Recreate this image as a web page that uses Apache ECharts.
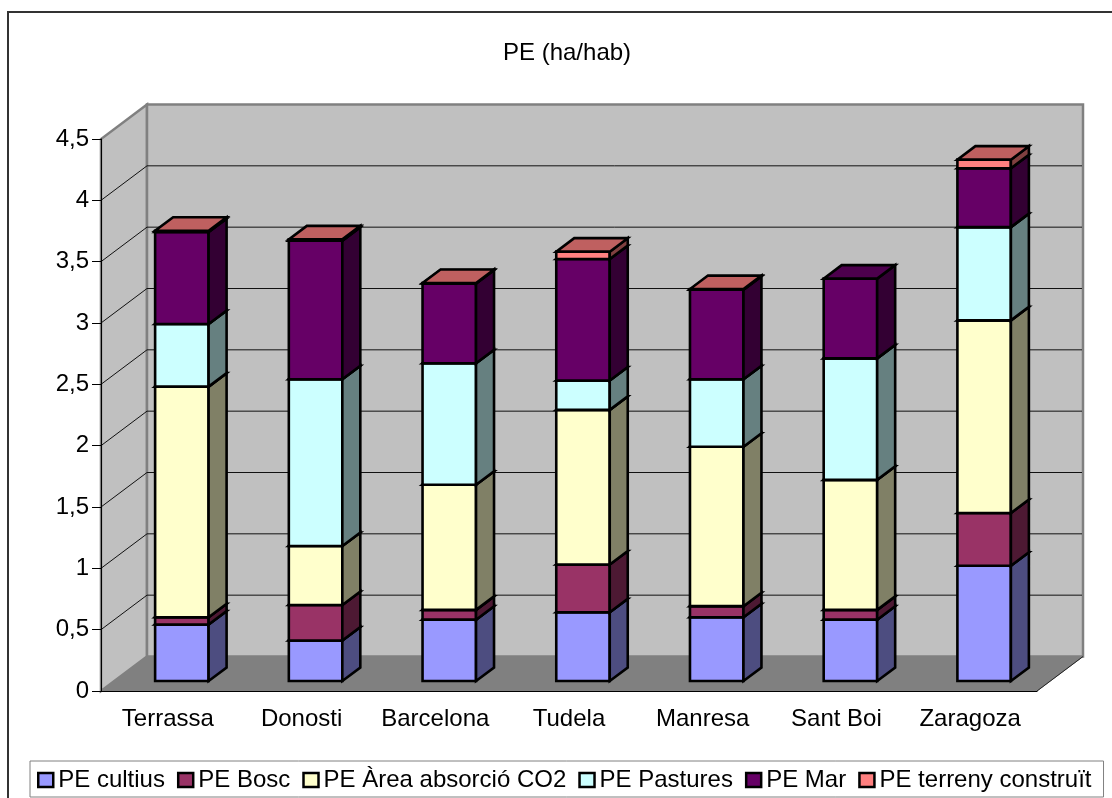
<!DOCTYPE html>
<html>
<head>
<meta charset="utf-8">
<title>PE (ha/hab)</title>
<script src="https://cdn.jsdelivr.net/npm/echarts@6/dist/echarts.min.js"></script>
<style>
  html, body { margin: 0; padding: 0; background: #fff; }
  #main { width: 1112px; height: 798px; }
</style>
</head>
<body>
<div id="main"></div>
<script>
var categories = ["Terrassa", "Donosti", "Barcelona", "Tudela", "Manresa", "Sant Boi", "Zaragoza"];
var yTicks = [0.5, 1, 1.5, 2, 2.5, 3, 3.5, 4];

var peCultius = [0.46, 0.33, 0.5, 0.56, 0.52, 0.5, 0.94];
var peBosc = [0.06, 0.29, 0.08, 0.39, 0.09, 0.08, 0.43];
var peArea = [1.88, 0.48, 1.02, 1.26, 1.3, 1.06, 1.57];
var pePastures = [0.51, 1.36, 0.99, 0.24, 0.55, 0.99, 0.76];
var peMar = [0.75, 1.13, 0.65, 0.99, 0.73, 0.65, 0.48];
var peTerreny = [0.01, 0.01, 0.005, 0.06, 0.005, 0, 0.07];

var seriesNames = ["PE cultius", "PE Bosc", "PE Àrea absorció CO2", "PE Pastures", "PE Mar", "PE terreny construït"];
var seriesValues = [peCultius, peBosc, peArea, pePastures, peMar, peTerreny];
var frontColors = ["#9999FF", "#993366", "#FFFFCC", "#CCFFFF", "#660066", "#FF8080"];
var sideColors = ["#4D4D80", "#4D1933", "#808066", "#668080", "#330033", "#804040"];
var topColors = ["#7373BF", "#73264D", "#BFBF99", "#99BFBF", "#4D004D", "#BF6060"];

// 3d look: how far the back wall sits from the front plane
var wallDx = 46;
var wallDy = -34.5;
// bars stand inside the floor
var barFrontDx = 14;
var barFrontDy = -10;
var barDepthDx = 18;
var barDepthDy = -13.5;
var barRatio = 0.4;

var myChart = echarts.init(document.getElementById("main"));

function poly(points, fill, stroke, lineWidth) {
  return {
    type: "polygon",
    shape: { points: points },
    style: { fill: fill, stroke: stroke, lineWidth: lineWidth }
  };
}

function renderWalls(params, api) {
  var rect = params.coordSys;
  var left = rect.x;
  var right = rect.x + rect.width;
  var y0 = api.coord([0, 0])[1];
  var yTop = api.coord([0, 4.5])[1];
  return {
    type: "group",
    children: [
      poly([[left, y0], [left + wallDx, y0 + wallDy], [left + wallDx, yTop + wallDy], [left, yTop]], "#C0C0C0", "#808080", 2.5),
      poly([[left + wallDx, y0 + wallDy], [right + wallDx, y0 + wallDy], [right + wallDx, yTop + wallDy], [left + wallDx, yTop + wallDy]], "#C0C0C0", "#808080", 2.5),
      poly([[left, y0], [left + wallDx, y0 + wallDy], [right + wallDx, y0 + wallDy], [right, y0]], "#808080", "#808080", 1)
    ]
  };
}

function renderGrid(params, api) {
  var rect = params.coordSys;
  var left = rect.x;
  var right = rect.x + rect.width;
  var y = api.coord([0, api.value(1)])[1];
  return {
    type: "polyline",
    shape: { points: [[left, y], [left + wallDx, y + wallDy], [right + wallDx - 1, y + wallDy]] },
    style: { fill: null, stroke: "#111", lineWidth: 1 }
  };
}

function renderFloorEdge(params, api) {
  var rect = params.coordSys;
  var right = rect.x + rect.width;
  var y0 = api.coord([0, 0])[1];
  return {
    type: "line",
    shape: { x1: right, y1: y0, x2: right + wallDx, y2: y0 + wallDy },
    style: { stroke: "#222", lineWidth: 1 }
  };
}

function makeRenderBar(s) {
  return function (params, api) {
    var base = api.value(1);
    var top = api.value(2);
    if (top <= base) return null;
    var band = api.size([1, 0])[0];
    var w = band * barRatio;
    var pb = api.coord([api.value(0), base]);
    var pt = api.coord([api.value(0), top]);
    var x1 = pb[0] + barFrontDx - w / 2;
    var x2 = x1 + w;
    var yb = pb[1] + barFrontDy;
    var yt = pt[1] + barFrontDy;
    return {
      type: "group",
      children: [
        poly([[x1, yb], [x2, yb], [x2, yt], [x1, yt]], frontColors[s], "#000", 2.6),
        poly([[x2, yb], [x2 + barDepthDx, yb + barDepthDy], [x2 + barDepthDx, yt + barDepthDy], [x2, yt]], sideColors[s], "#000", 2.6),
        poly([[x1, yt], [x2, yt], [x2 + barDepthDx, yt + barDepthDy], [x1 + barDepthDx, yt + barDepthDy]], topColors[s], "#000", 2.6)
      ]
    };
  };
}

var series = [
  {
    type: "custom",
    name: "walls",
    z: 1,
    silent: true,
    renderItem: renderWalls,
    data: [[0, 0]],
    encode: { x: 0, y: 1 }
  },
  {
    type: "custom",
    name: "grid",
    z: 2,
    silent: true,
    renderItem: renderGrid,
    data: yTicks.map(function (v) { return [0, v]; }),
    encode: { x: 0, y: 1 }
  },
  {
    type: "custom",
    name: "edge",
    z: 2,
    silent: true,
    renderItem: renderFloorEdge,
    data: [[0, 0]],
    encode: { x: 0, y: 1 }
  }
];

var totals = categories.map(function () { return 0; });
seriesValues.forEach(function (values, s) {
  var rows = values.map(function (v, i) {
    var row = [i, totals[i], totals[i] + v];
    totals[i] += v;
    return row;
  });
  series.push({
    type: "custom",
    name: seriesNames[s],
    z: 3,
    silent: true,
    renderItem: makeRenderBar(s),
    itemStyle: { color: frontColors[s] },
    data: rows,
    encode: { x: 0, y: [1, 2] }
  });
});

myChart.setOption({
  animation: false,
  backgroundColor: "#fff",
  textStyle: { fontFamily: "Liberation Sans" },
  title: {
    text: "PE (ha/hab)",
    left: 498,
    top: 36,
    textStyle: { fontSize: 24, fontWeight: "normal", color: "#000", fontFamily: "Liberation Sans" }
  },
  legend: {
    data: seriesNames,
    left: 30,
    top: 761,
    padding: [7, 12, 5, 7],
    itemGap: 12,
    itemWidth: 15,
    itemHeight: 14,
    icon: "rect",
    backgroundColor: "#fff",
    borderColor: "#808080",
    borderWidth: 1,
    borderRadius: 0,
    selectedMode: false,
    itemStyle: { borderColor: "#000", borderWidth: 2.5 },
    textStyle: { fontSize: 24, color: "#000", fontFamily: "Liberation Sans" }
  },
  grid: { left: 101, right: 75, top: 139, bottom: 107 },
  xAxis: {
    type: "category",
    data: categories,
    z: 5,
    axisLine: { lineStyle: { color: "#000", width: 1 } },
    axisTick: { length: 10, lineStyle: { color: "#000" } },
    axisLabel: { fontSize: 24, color: "#000", margin: 16, interval: 0, fontFamily: "Liberation Sans" }
  },
  yAxis: {
    type: "value",
    min: 0,
    max: 4.5,
    interval: 0.5,
    z: 5,
    splitLine: { show: false },
    axisLine: { show: true, lineStyle: { color: "#000", width: 1 } },
    axisTick: { show: true, length: 9, lineStyle: { color: "#000" } },
    axisLabel: {
      fontSize: 24,
      color: "#000",
      margin: 12,
      fontFamily: "Liberation Sans",
      formatter: function (v) { return String(v).replace(".", ","); }
    }
  },
  graphic: [
    {
      type: "rect",
      z: 100,
      silent: true,
      shape: { x: 8, y: 12, width: 1300, height: 1000 },
      style: { fill: null, stroke: "#333", lineWidth: 2 }
    }
  ],
  series: series
});
</script>
</body>
</html>
